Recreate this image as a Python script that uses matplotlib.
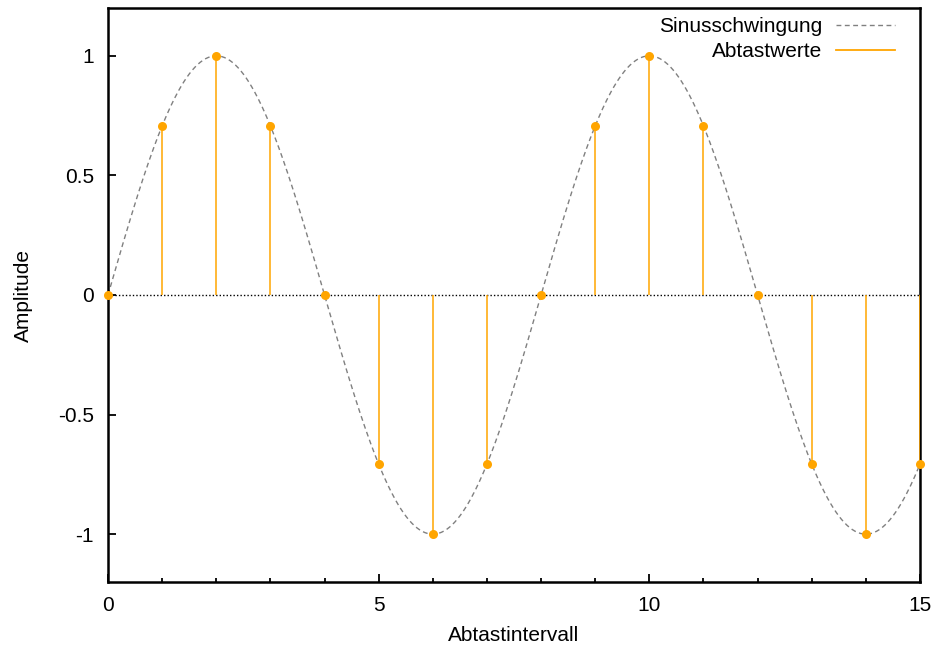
import numpy as np
import matplotlib
matplotlib.use("Agg")
import matplotlib.pyplot as plt
from matplotlib.lines import Line2D

plt.rcParams['font.family'] = ['Liberation Sans', 'DejaVu Sans']

# Data
sample_x = list(range(16))
sample_y = [0.0, 0.7071, 1.0, 0.7071, 0.0, -0.7071, -1.0, -0.7071,
            0.0, 0.7071, 1.0, 0.7071, 0.0, -0.7071, -1.0, -0.7071]
period = 8.0
amplitude = 1.0
x_ticks = [0, 5, 10, 15]
y_ticks = [-1, -0.5, 0, 0.5, 1]
y_tick_labels = ['-1', '-0.5', '0', '0.5', '1']
legend_labels = ['Sinusschwingung', 'Abtastwerte']

orange = '#FFA500'
gray = '#808080'

fig = plt.figure(figsize=(9.38, 6.5), dpi=100)
ax = fig.add_axes([108/938, 68/650, (920-108)/938, (582-8)/650])

xc = np.linspace(0, 15, 600)
ax.plot(xc, amplitude*np.sin(2*np.pi*xc/period), color=gray, lw=1.0,
        dashes=(3.5, 2.5), zorder=2)
ax.axhline(0, color='black', lw=1.0, ls=(0, (1, 1.5)), zorder=1)
ax.vlines(sample_x, 0, sample_y, color=orange, lw=1.1, zorder=3)
ax.plot(sample_x, sample_y, 'o', color=orange, ms=6.5, mec='none', zorder=4,
        clip_on=False)

ax.set_xlim(0, 15)
ax.set_ylim(-1.2, 1.2)
ax.set_xticks(x_ticks)
ax.set_xticklabels([str(t) for t in x_ticks])
ax.set_xticks(sample_x, minor=True)
ax.set_yticks(y_ticks)
ax.set_yticklabels(y_tick_labels)
ax.tick_params(which='both', direction='in', labelsize=15, width=1.3)
ax.tick_params(which='major', length=6, pad=10)
ax.tick_params(which='minor', length=3)
for s in ax.spines.values():
    s.set_linewidth(1.8)

ax.set_xlabel('Abtastintervall', fontsize=15, labelpad=8)
ax.set_ylabel('Amplitude', fontsize=15, labelpad=18)

handles = [Line2D([], [], color=gray, lw=1.0, dashes=(3.5, 2.5)),
           Line2D([], [], color=orange, lw=1.3)]
ax.legend(handles, legend_labels, loc='upper right', frameon=False,
          markerfirst=False, fontsize=15, handlelength=2.8,
          bbox_to_anchor=(0.969, 0.984), borderpad=0, borderaxespad=0,
          labelspacing=0.28, handletextpad=0.7)

fig.savefig('out.png', dpi=100)
